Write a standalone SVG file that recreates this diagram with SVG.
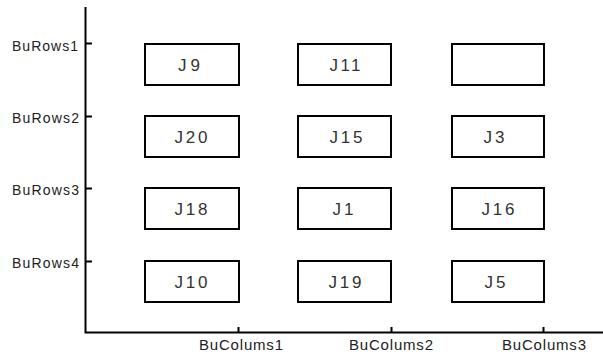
<svg xmlns="http://www.w3.org/2000/svg" width="603" height="355" viewBox="0 0 603 355">
<style>
.bg{fill:#fff}
.axis{stroke:#000;stroke-width:2;fill:none}
.box{fill:#fff;stroke:#000;stroke-width:2}
.lbl{font-family:"Liberation Sans",Arial,sans-serif;font-size:17px;fill:#333;text-anchor:middle}
.rl{font-family:"Liberation Sans",Arial,sans-serif;font-size:14px;fill:#222;text-anchor:end}
.cl{font-family:"Liberation Sans",Arial,sans-serif;font-size:15px;fill:#222;text-anchor:middle}
</style>
<rect class="bg" x="0" y="0" width="603" height="355"/>
<g id="axes">
<path class="axis" d="M85.5 7 V333 M84.5 332.5 H603"/>
<path class="axis" d="M85 43.5 H92 M85 116.5 H92 M85 188.5 H92 M85 261.5 H92"/>
<path class="axis" d="M238.5 333 V327 M391.5 333 V327 M543.5 333 V327"/>
<text class="rl" x="78" y="51" textLength="66" lengthAdjust="spacing">BuRows1</text>
<text class="rl" x="79" y="123" textLength="67" lengthAdjust="spacing">BuRows2</text>
<text class="rl" x="79" y="195" textLength="67" lengthAdjust="spacing">BuRows3</text>
<text class="rl" x="79" y="268" textLength="67" lengthAdjust="spacing">BuRows4</text>
<text class="cl" x="241" y="350" textLength="84" lengthAdjust="spacing">BuColums1</text>
<text class="cl" x="391" y="350" textLength="84" lengthAdjust="spacing">BuColums2</text>
<text class="cl" x="544" y="350" textLength="84" lengthAdjust="spacing">BuColums3</text>
</g>
<g id="J9"><rect class="box" x="145" y="44" width="94" height="41"/><text class="lbl" x="189" y="71" textLength="22" lengthAdjust="spacing">J9</text></g>
<g id="J11"><rect class="box" x="298" y="44" width="93" height="41"/><text class="lbl" x="345" y="71" textLength="31" lengthAdjust="spacing">J11</text></g>
<g id="empty"><rect class="box" x="452" y="44" width="92" height="41"/></g>
<g id="J20"><rect class="box" x="145" y="116" width="94" height="41"/><text class="lbl" x="191" y="143" textLength="33" lengthAdjust="spacing">J20</text></g>
<g id="J15"><rect class="box" x="298" y="116" width="93" height="41"/><text class="lbl" x="346" y="143" textLength="33" lengthAdjust="spacing">J15</text></g>
<g id="J3"><rect class="box" x="452" y="116" width="92" height="41"/><text class="lbl" x="494" y="143" textLength="21" lengthAdjust="spacing">J3</text></g>
<g id="J18"><rect class="box" x="145" y="188" width="94" height="41"/><text class="lbl" x="191" y="215" textLength="33" lengthAdjust="spacing">J18</text></g>
<g id="J1"><rect class="box" x="298" y="188" width="93" height="41"/><text class="lbl" x="343" y="215" textLength="21" lengthAdjust="spacing">J1</text></g>
<g id="J16"><rect class="box" x="452" y="188" width="92" height="41"/><text class="lbl" x="498" y="215" textLength="33" lengthAdjust="spacing">J16</text></g>
<g id="J10"><rect class="box" x="145" y="261" width="94" height="41"/><text class="lbl" x="191" y="288" textLength="33" lengthAdjust="spacing">J10</text></g>
<g id="J19"><rect class="box" x="298" y="261" width="93" height="41"/><text class="lbl" x="345" y="288" textLength="33" lengthAdjust="spacing">J19</text></g>
<g id="J5"><rect class="box" x="452" y="261" width="92" height="41"/><text class="lbl" x="495" y="288" textLength="21" lengthAdjust="spacing">J5</text></g>
<g id="connectors"></g>
</svg>
